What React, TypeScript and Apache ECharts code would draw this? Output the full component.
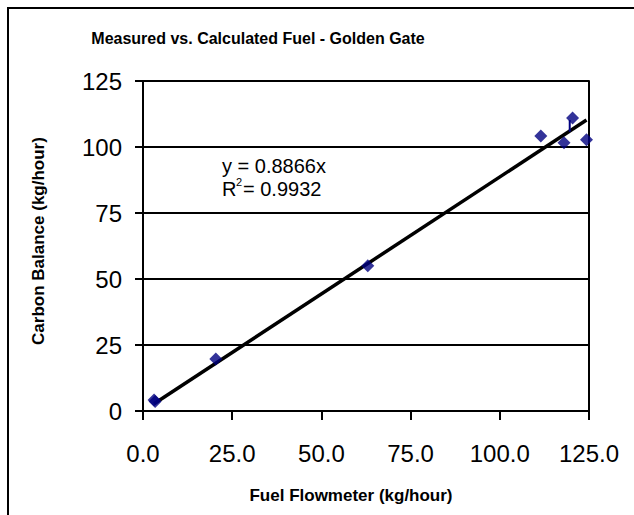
import React, { useEffect, useRef } from "react";
import * as echarts from "echarts";

const measuredX = [3.1, 3.4, 20.4, 63.0, 111.5, 118.0, 120.4, 124.3];
const calculatedY = [4.2, 3.6, 19.7, 55.0, 104.2, 101.6, 111.0, 102.7];
const slope = 0.8866;
const rSquared = 0.9932;
const xTicks = [0, 25, 50, 75, 100, 125];
const yTicks = [0, 25, 50, 75, 100, 125];
const errBarX = [119.6, 119.6];
const errBarY = [110.2, 105.8];

const titleText = "Measured vs. Calculated Fuel - Golden Gate";
const xTitle = "Fuel Flowmeter (kg/hour)";
const yTitle = "Carbon Balance (kg/hour)";

const FONT = "Liberation Sans, Arial, Helvetica, sans-serif";

export default function App() {
  const ref = useRef<HTMLDivElement>(null);
  useEffect(() => {
    if (!ref.current) return;
    const chart = echarts.init(ref.current, undefined, { renderer: "svg" });
    const xMin = Math.min(...measuredX);
    const xMax = Math.max(...measuredX);
    const trend = [
      [xMin, slope * xMin],
      [xMax, slope * xMax],
    ];
    const points = measuredX.map((x, i) => [x, calculatedY[i]]);
    const err = errBarX.map((x, i) => [x, errBarY[i]]);
    const axisMin = xTicks[0];
    const axisMax = xTicks[xTicks.length - 1];
    const step = xTicks[1] - xTicks[0];
    const yMin = yTicks[0];
    const yMax = yTicks[yTicks.length - 1];
    const yStep = yTicks[1] - yTicks[0];

    chart.setOption({
      animation: false,
      backgroundColor: "#ffffff",
      textStyle: { fontFamily: FONT },
      grid: { left: 143, right: 45, top: 81, bottom: 104, containLabel: false },
      graphic: [
        {
          type: "rect",
          shape: { x: 8, y: 8, width: 700, height: 600 },
          style: { fill: "none", stroke: "#000", lineWidth: 2 },
          silent: true,
          z: -1,
        },
        {
          type: "text",
          x: 258,
          y: 38,
          style: {
            text: titleText,
            font: `bold 16px ${FONT}`,
            fill: "#000",
            textAlign: "center",
            textVerticalAlign: "middle",
          },
        },
        {
          type: "text",
          x: 222,
          y: 166,
          style: {
            text: `y = ${slope}x`,
            font: `20px ${FONT}`,
            fill: "#000",
            textAlign: "left",
            textVerticalAlign: "middle",
          },
        },
        {
          type: "text",
          x: 222,
          y: 189,
          style: {
            text: "R",
            font: `20px ${FONT}`,
            fill: "#000",
            textAlign: "left",
            textVerticalAlign: "middle",
          },
        },
        {
          type: "text",
          x: 236,
          y: 182,
          style: {
            text: "2",
            font: `11px ${FONT}`,
            fill: "#000",
            textAlign: "left",
            textVerticalAlign: "middle",
          },
        },
        {
          type: "text",
          x: 243,
          y: 189,
          style: {
            text: `= ${rSquared}`,
            font: `20px ${FONT}`,
            fill: "#000",
            textAlign: "left",
            textVerticalAlign: "middle",
          },
        },
      ],
      xAxis: {
        type: "value",
        min: axisMin,
        max: axisMax,
        interval: step,
        name: xTitle,
        nameLocation: "middle",
        nameGap: 76,
        nameTextStyle: { fontFamily: FONT, fontWeight: "bold", fontSize: 17, color: "#000", padding: [0, 30, 0, 0] },
        axisLine: { show: true, onZero: true, lineStyle: { color: "#000", width: 2 } },
        axisTick: { show: true, inside: false, length: 9, lineStyle: { color: "#000", width: 2 } },
        axisLabel: {
          fontFamily: FONT,
          fontSize: 24,
          color: "#000",
          margin: 30,
          formatter: (v: number) => v.toFixed(1),
        },
        splitLine: { show: false },
      },
      yAxis: [
        {
          type: "value",
          min: yMin,
          max: yMax,
          interval: yStep,
          name: yTitle,
          nameLocation: "middle",
          nameGap: 96,
          nameRotate: 90,
          nameTextStyle: { fontFamily: FONT, fontWeight: "bold", fontSize: 17, color: "#000", padding: [0, 0, 0, 10] },
          axisLine: { show: true, lineStyle: { color: "#000", width: 2 } },
          axisTick: { show: true, inside: false, length: 8, lineStyle: { color: "#000", width: 2 } },
          axisLabel: { fontFamily: FONT, fontSize: 24, color: "#000", margin: 21 },
          splitLine: { show: true, lineStyle: { color: "#000", width: 2 } },
        },
        {
          type: "value",
          position: "right",
          min: yMin,
          max: yMax,
          interval: yStep,
          axisLine: { show: true, lineStyle: { color: "#000", width: 2 } },
          axisTick: { show: false },
          axisLabel: { show: false },
          splitLine: { show: false },
        },
      ],
      series: [
        {
          type: "line",
          data: trend,
          showSymbol: false,
          symbol: "none",
          lineStyle: { color: "#000", width: 3.5 },
          z: 3,
        },
        {
          type: "line",
          data: err,
          showSymbol: false,
          symbol: "none",
          lineStyle: { color: "#000080", width: 2 },
          z: 4,
        },
        {
          type: "scatter",
          data: points,
          symbol: "diamond",
          symbolSize: 13,
          itemStyle: { color: "#000080" },
          z: 5,
        },
      ],
    });
    return () => chart.dispose();
  }, []);
  return (
    <div
      ref={ref}
      style={{ position: "fixed", left: 0, top: 0, width: 634, height: 515 }}
    />
  );
}
